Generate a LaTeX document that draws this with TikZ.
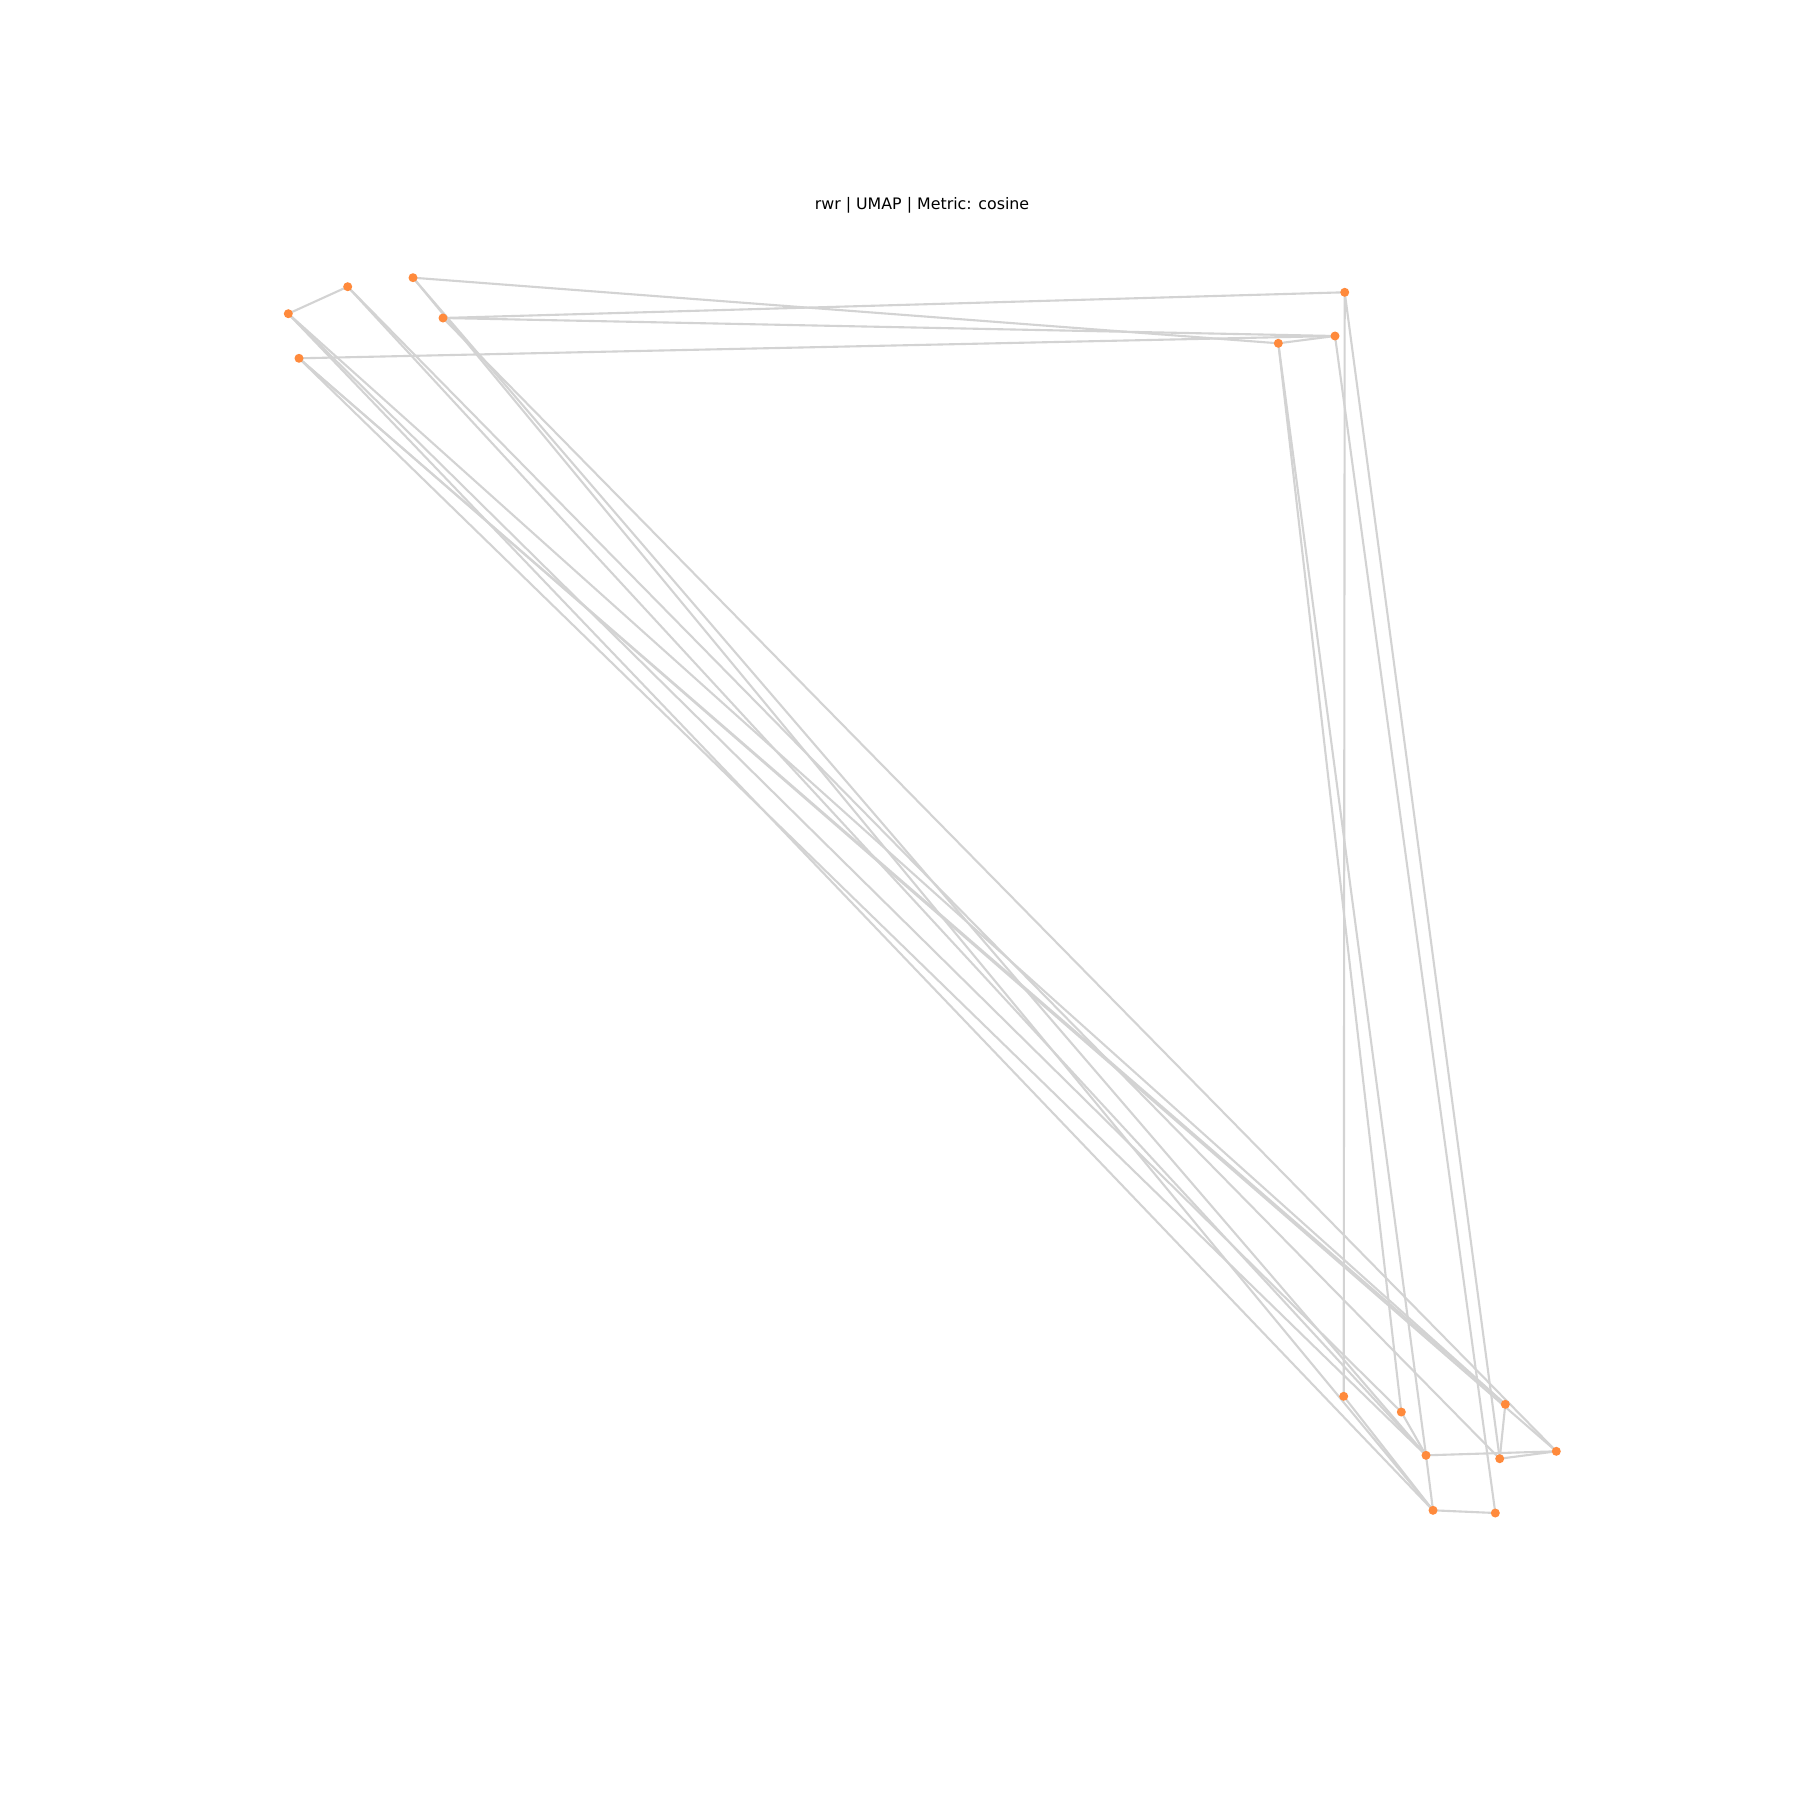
\documentclass[tikz,border=0pt]{standalone}
\usepackage{fontspec}
\setmainfont{DejaVu Sans}
\begin{document}
\begin{tikzpicture}[x=0.01cm,y=-0.01cm,
  pt/.style={circle,fill=nodeor,inner sep=0pt,minimum size=0.09cm},
  edge/.style={draw=edgegray,line width=0.6pt}]
\definecolor{nodeor}{HTML}{FF8A3C}
\definecolor{edgegray}{HTML}{D3D3D3}
\useasboundingbox (0,0) rectangle (1800,1800);
\node[font=\fontsize{4.5}{5.4}\selectfont] (title) at (922,205) {rwr | UMAP | Metric: cosine};
\coordinate (A) at (347.7,286.7);
\coordinate (B) at (288.3,313.7);
\coordinate (C) at (413,277.7);
\coordinate (D) at (443,318);
\coordinate (E) at (299,358.3);
\coordinate (F) at (1344.7,292.3);
\coordinate (G) at (1335,336);
\coordinate (H) at (1278.3,343.3);
\coordinate (I) at (1343.7,1396.3);
\coordinate (J) at (1401.3,1412);
\coordinate (K) at (1505.3,1404.3);
\coordinate (L) at (1556.3,1451.3);
\coordinate (M) at (1426,1455.3);
\coordinate (N) at (1499.7,1458.7);
\coordinate (O) at (1433,1510.3);
\coordinate (P) at (1495.3,1513);
\foreach \a/\b in {A/B,C/H,D/F,D/G,E/G,G/H,F/I,F/N,G/P,H/J,H/M,I/O,J/M,M/O,M/L,N/L,N/K,O/P,
  A/M,A/N,B/O,B/J,B/K,E/K,E/L,E/M,C/M,C/O,D/L}
  \path[edge] (\a) -- (\b);
\foreach \n in {A,B,C,D,E,F,G,H,I,J,K,L,M,N,O,P}
  \node[pt] (n\n) at (\n) {};
\end{tikzpicture}
\end{document}
